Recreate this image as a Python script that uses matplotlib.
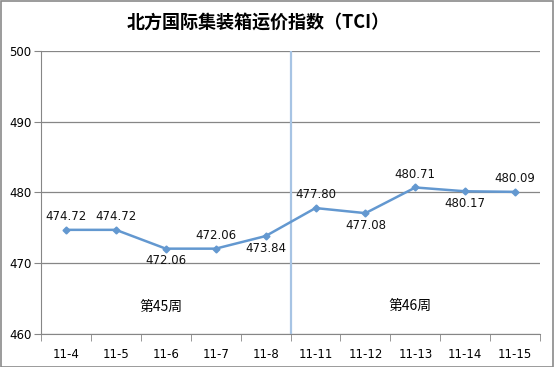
import matplotlib
matplotlib.use("Agg")
import matplotlib.pyplot as plt
from matplotlib.patches import Rectangle

plt.rcParams['font.family'] = ['Noto Sans CJK SC', 'DejaVu Sans']

categories = ["11-4", "11-5", "11-6", "11-7", "11-8", "11-11", "11-12", "11-13", "11-14", "11-15"]
values = [474.72, 474.72, 472.06, 472.06, 473.84, 477.80, 477.08, 480.71, 480.17, 480.09]
label_pos = ["above", "above", "below", "above", "below", "above", "below", "above", "below", "above"]
title = "北方国际集装箱运价指数（TCI）"
week_labels = ["第45周", "第46周"]

fig = plt.figure(figsize=(5.54, 3.67), dpi=100)
fig.patches.append(Rectangle((0.001, 0.001), 0.997, 0.996, transform=fig.transFigure,
                             fill=False, edgecolor="#8a8a8a", linewidth=1.2))
ax = fig.add_axes([0.074, 0.09, 0.901, 0.771])

x = list(range(len(categories)))
line_color = "#6398d0"
ax.plot(x, values, color=line_color, linewidth=1.8, marker="D", markersize=3.5,
        markerfacecolor=line_color, markeredgecolor=line_color, zorder=3)

for xi, v, pos in zip(x, values, label_pos):
    if pos == "above":
        ax.annotate(f"{v:.2f}", (xi, v), xytext=(0, 5), textcoords="offset points",
                    ha="center", va="bottom", fontsize=8.5, family="DejaVu Sans", color="#111111")
    else:
        ax.annotate(f"{v:.2f}", (xi, v), xytext=(0, -4), textcoords="offset points",
                    ha="center", va="top", fontsize=8.5, family="DejaVu Sans", color="#111111")

ax.set_ylim(460, 500)
ax.set_xlim(-0.5, len(categories) - 0.5)
ax.set_yticks([460, 470, 480, 490, 500])
ax.yaxis.grid(True, color="#868686", linewidth=0.9)
ax.set_axisbelow(True)

ax.set_xticks(x)
ax.set_xticklabels(categories, fontsize=8.5, family="DejaVu Sans")
ax.tick_params(axis="x", which="major", length=0, pad=10)
ax.set_xticks([i - 0.5 for i in range(len(categories) + 1)], minor=True)
ax.tick_params(axis="x", which="minor", length=5, color="#868686", direction="out")
ax.tick_params(axis="y", length=5, color="#868686", labelsize=8.5, pad=2)
for lbl in ax.get_yticklabels():
    lbl.set_family("DejaVu Sans")

for s in ["top", "right"]:
    ax.spines[s].set_visible(False)
for s in ["left", "bottom"]:
    ax.spines[s].set_color("#868686")

ax.axvline(4.5, color="#a7c4e4", linewidth=1.6, zorder=2)

ax.text(1.9, 463.8, week_labels[0], ha="center", va="center", fontsize=10)
ax.text(6.9, 464.0, week_labels[1], ha="center", va="center", fontsize=10)

fig.text(0.466, 0.94, title, ha="center", va="center", fontsize=13, fontweight="bold")

fig.savefig("out.png", dpi=100)
